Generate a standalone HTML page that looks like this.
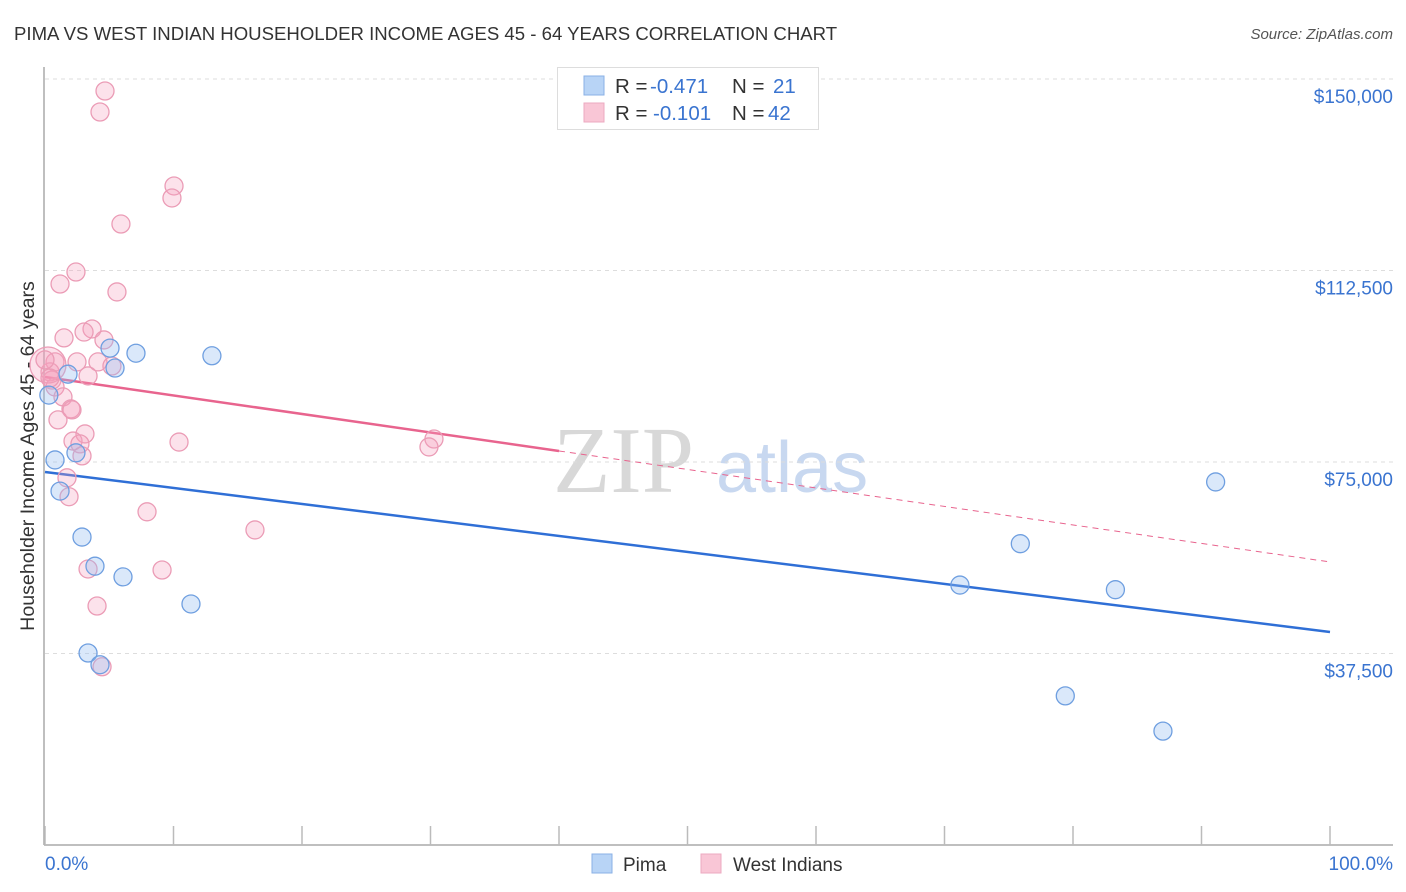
<!DOCTYPE html>
<html><head><meta charset="utf-8"><style>
body{margin:0;background:#fff;font-family:"Liberation Sans",sans-serif;}
#wrap{position:relative;width:1406px;height:892px;overflow:hidden;}
</style></head><body>
<div id="wrap">
<svg id="chart" width="1406" height="892" xmlns="http://www.w3.org/2000/svg">
<text x="14" y="40" font-size="18.6" fill="#333">PIMA VS WEST INDIAN HOUSEHOLDER INCOME AGES 45 - 64 YEARS CORRELATION CHART</text>
<text x="1393" y="39" font-size="15" fill="#555" font-style="italic" text-anchor="end">Source: ZipAtlas.com</text>
<text x="0" y="0" transform="translate(34,456) rotate(-90)" font-size="19.6" fill="#333" text-anchor="middle">Householder Income Ages 45 - 64 years</text>
<text x="553" y="492" font-size="94" fill="#d8d8d8" font-family="Liberation Serif,serif">ZIP</text>
<text x="716" y="492" font-size="72" fill="#c8d8f0">atlas</text>
<g id="grid"></g>
<g id="axes"></g>
<g id="lines"></g>
<g id="points"></g>
<g>
<rect x="557.5" y="67.5" width="261" height="62" fill="#fff" stroke="#ddd"/>
<rect x="584" y="76" width="20" height="19" fill="#b8d4f6" stroke="#8ab0e6"/>
<rect x="584" y="103" width="20" height="19" fill="#f9c6d6" stroke="#ecaac0"/>
<text x="615" y="93" font-size="20.5" fill="#333">R = <tspan x="650" fill="#3a74d0">-0.471</tspan><tspan x="732">N = </tspan><tspan x="773" fill="#3a74d0">21</tspan></text>
<text x="615" y="120" font-size="20.5" fill="#333">R = <tspan x="653" fill="#3a74d0">-0.101</tspan><tspan x="732">N = </tspan><tspan x="768" fill="#3a74d0">42</tspan></text>
</g>
<g>
<rect x="592" y="854" width="20" height="19" fill="#b8d4f6" stroke="#8ab0e6"/>
<text x="623" y="871" font-size="19" fill="#333">Pima</text>
<rect x="701" y="854" width="20" height="19" fill="#f9c6d6" stroke="#ecaac0"/>
<text x="733" y="871" font-size="19" fill="#333">West Indians</text>
</g>
</svg>
</div>
<script>
const yTicks=[37500,75000,112500,150000];
const yTickLabels=["$37,500","$75,000","$112,500","$150,000"];
const xTicks=[0,10,20,30,40,50,60,70,80,90,100];
const pimaX=[0.78,1.17,1.79,2.88,3.35,3.89,4.28,5.06,5.45,6.07,7.08,11.36,12.99,0.3,2.41,71.2,75.9,79.4,83.3,87.0,91.1];
const pimaY=[75400,69300,92200,60300,37600,54600,35300,97300,93400,52500,96300,47200,95800,88100,76800,50900,59000,29200,50000,22300,71100];
const wiX=[4.67,4.28,10.04,9.88,5.91,2.41,1.17,5.60,1.48,3.66,3.04,4.59,0.78,4.12,2.49,5.21,3.35,0.39,0.54,0.78,1.40,2.02,1.01,2.10,3.11,2.18,2.72,2.88,1.71,1.87,10.43,30.27,29.88,7.94,16.34,3.35,9.11,4.05,4.44,0.23,0.39,0];
const wiY=[147650,143540,129050,126700,121600,112200,109850,108300,99300,101050,100450,98900,94600,94600,94600,93800,91850,92650,91050,89700,87750,85400,83250,85200,80500,79100,78550,76200,71900,68200,78900,79500,77950,65250,61700,54050,53850,46800,34900,94000,91450,95000];
const wiR=[9,9,9,9,9,9,9,9,9,9,9,9,9,9,9,9,9,9,9,9,9,9,9,9,9,9,9,9,9,9,9,9,9,9,9,9,9,9,9,18,9,9];
const pimaTrend=[73050,41720];
const wiTrend=[91650,55430];
const wiSolidEnd=40;
const NS="http://www.w3.org/2000/svg";
const X0=45,X1=1330,YT=79,YB=845;
function xs(p){return X0+(X1-X0)*p/100;}
function ys(v){return YB-(YB-YT)*v/150000;}
function mk(tag,attrs,parent){const e=document.createElementNS(NS,tag);for(const k in attrs)e.setAttribute(k,attrs[k]);parent.appendChild(e);return e;}
const grid=document.getElementById('grid'),axes=document.getElementById('axes'),lines=document.getElementById('lines'),pts=document.getElementById('points');
yTicks.forEach((v,i)=>{
 const l=mk('line',{x1:X0,x2:1393,y1:ys(v),y2:ys(v),stroke:'#ddd','stroke-dasharray':'4,4'},grid);
 
 
 const t=mk('text',{x:1393,y:ys(v)+24,'font-size':19,fill:'#3a74d0','text-anchor':'end'},grid);
 t.textContent=yTickLabels[i];
 
 
});
const ax=mk('line',{x1:44,x2:1393,y1:YB,y2:YB,stroke:'#aaa','stroke-width':1.5},axes);


const ay=mk('line',{x1:44,x2:44,y1:67,y2:YB,stroke:'#aaa','stroke-width':1.5},axes);


xTicks.forEach(p=>{
 const t=mk('line',{x1:xs(p),x2:xs(p),y1:826,y2:YB,stroke:'#bbb','stroke-width':1.5},axes);
 
 
});
const xl0=mk('text',{x:45,y:870,'font-size':19,fill:'#3a74d0'},axes);xl0.textContent='0.0%';


const xl1=mk('text',{x:1393,y:870,'font-size':19,fill:'#3a74d0','text-anchor':'end'},axes);xl1.textContent='100.0%';


function tv(tr,p){return tr[0]+(tr[1]-tr[0])*p/100;}
const pl=mk('line',{x1:xs(0),y1:ys(tv(pimaTrend,0)),x2:xs(100),y2:ys(tv(pimaTrend,100)),stroke:'#2f6fd6','stroke-width':2.5},lines);


const wl=mk('line',{x1:xs(0),y1:ys(tv(wiTrend,0)),x2:xs(wiSolidEnd),y2:ys(tv(wiTrend,wiSolidEnd)),stroke:'#e8648e','stroke-width':2.5},lines);


const wd=mk('line',{x1:xs(wiSolidEnd),y1:ys(tv(wiTrend,wiSolidEnd)),x2:xs(100),y2:ys(tv(wiTrend,100)),stroke:'#e8648e','stroke-width':1,'stroke-dasharray':'6,5'},lines);


wiX.forEach((x,i)=>{
 const c=mk('circle',{cx:xs(x),cy:ys(wiY[i]),r:wiR[i],fill:'rgba(244,160,188,0.3)',stroke:'#eb9cb6','stroke-width':1.3},pts);
 
 
});
pimaX.forEach((x,i)=>{
 const c=mk('circle',{cx:xs(x),cy:ys(pimaY[i]),r:9,fill:'rgba(150,190,240,0.35)',stroke:'#6f9fe0','stroke-width':1.3},pts);
 
 
});
</script>
</body></html>
